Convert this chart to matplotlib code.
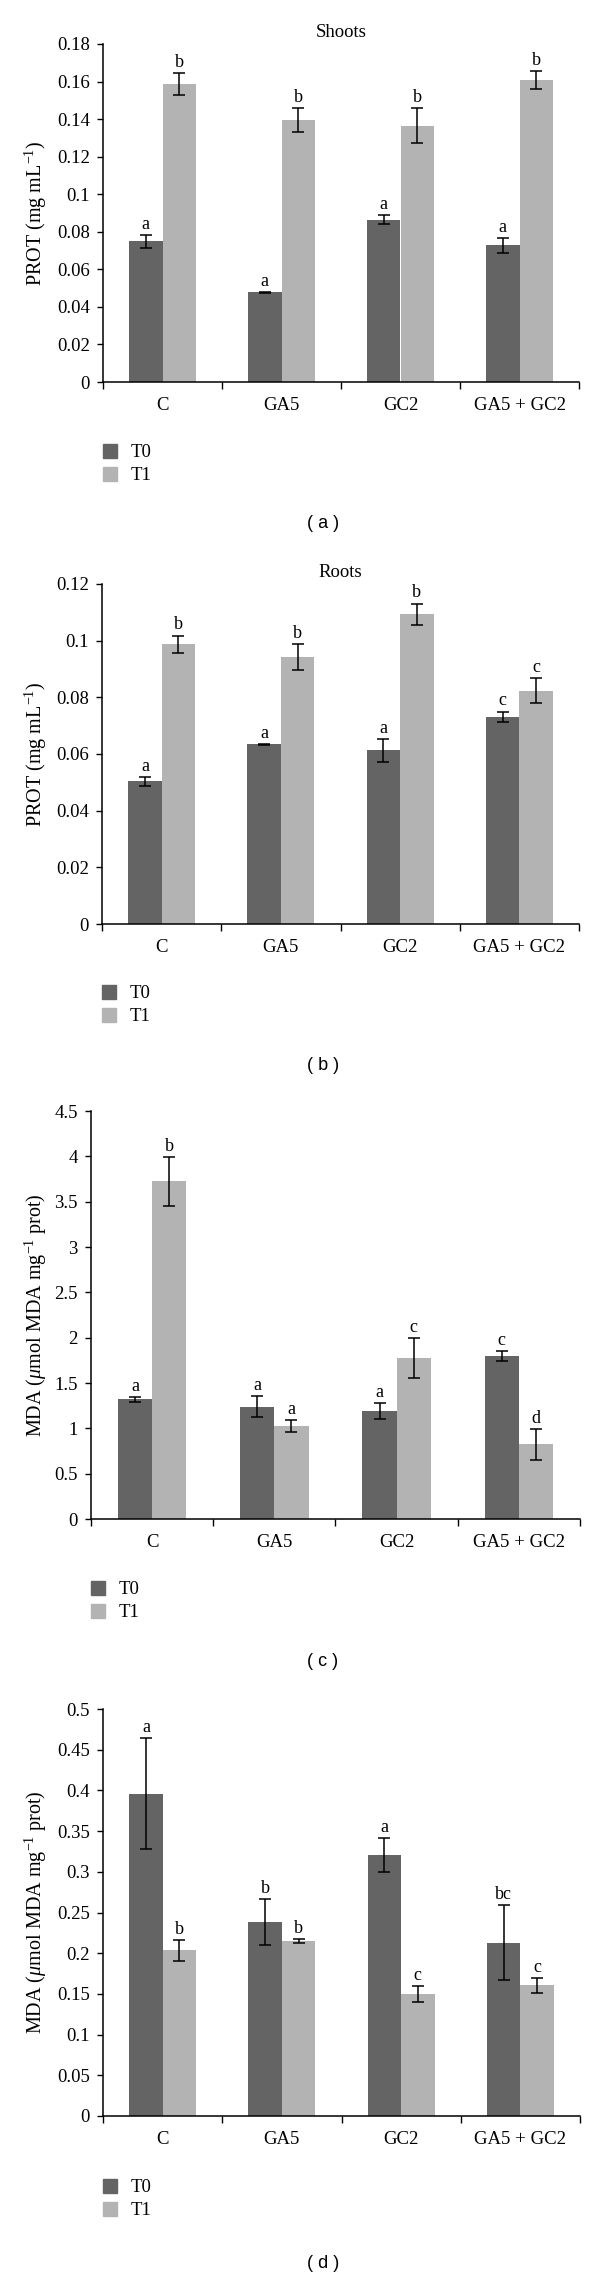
import numpy as np
import matplotlib
matplotlib.use("Agg")
import matplotlib.pyplot as plt
from matplotlib.patches import Patch

plt.rcParams['font.family'] = ['Liberation Serif', 'DejaVu Serif']
plt.rcParams['mathtext.fontset'] = 'custom'
plt.rcParams['mathtext.rm'] = 'Liberation Serif'
plt.rcParams['mathtext.it'] = 'Liberation Serif:italic'

categories = ['C', 'GA5', 'GC2', 'GA5 + GC2']
series = ['T0', 'T1']
colors = ['#646464', '#b3b3b3']

# --- (a) protein, shoots ---
shoots_t0 = [0.0750, 0.0477, 0.0865, 0.0727]
shoots_t0_err = [0.0034, 0.0003, 0.0026, 0.0038]
shoots_t1 = [0.1586, 0.1393, 0.1365, 0.1607]
shoots_t1_err = [0.0060, 0.0064, 0.0093, 0.0049]
shoots_t0_lett = ['a', 'a', 'a', 'a']
shoots_t1_lett = ['b', 'b', 'b', 'b']

# --- (b) protein, roots ---
roots_t0 = [0.0504, 0.0634, 0.0613, 0.0731]
roots_t0_err = [0.0016, 0.0002, 0.0040, 0.0019]
roots_t1 = [0.0988, 0.0942, 0.1094, 0.0824]
roots_t1_err = [0.0030, 0.0047, 0.0037, 0.0045]
roots_t0_lett = ['a', 'a', 'a', 'c']
roots_t1_lett = ['b', 'b', 'b', 'c']

# --- (c) MDA, shoots ---
mda_s_t0 = [1.322, 1.240, 1.190, 1.796]
mda_s_t0_err = [0.027, 0.120, 0.089, 0.054]
mda_s_t1 = [3.724, 1.030, 1.771, 0.824]
mda_s_t1_err = [0.270, 0.066, 0.220, 0.170]
mda_s_t0_lett = ['a', 'a', 'a', 'c']
mda_s_t1_lett = ['b', 'a', 'c', 'd']

# --- (d) MDA, roots ---
mda_r_t0 = [0.3958, 0.2383, 0.3204, 0.2126]
mda_r_t0_err = [0.068, 0.028, 0.021, 0.046]
mda_r_t1 = [0.2035, 0.2153, 0.1498, 0.1606]
mda_r_t1_err = [0.013, 0.0025, 0.0095, 0.009]
mda_r_t0_lett = ['a', 'b', 'a', 'bc']
mda_r_t1_lett = ['b', 'b', 'c', 'c']

prot_label = r'PROT (mg mL$^{-1}$)'
mda_label = r'MDA ($\mu$mol MDA mg$^{-1}$ prot)'

W, H = 600, 2276
fig = plt.figure(figsize=(W / 100, H / 100), dpi=100)


def px_rect(x0, y0, x1, y1):
    return [x0 / W, 1 - y1 / H, (x1 - x0) / W, (y1 - y0) / H]


panels = [
    dict(rect=(103, 44, 579, 382), ylim=0.18, step=0.02, title='Shoots', ylabel=prot_label,
         t0=shoots_t0, e0=shoots_t0_err, t1=shoots_t1, e1=shoots_t1_err,
         l0=shoots_t0_lett, l1=shoots_t1_lett, leg_y=444, tag='( a )', tag_y=523),
    dict(rect=(102, 584, 579, 924), ylim=0.12, step=0.02, title='Roots', ylabel=prot_label,
         t0=roots_t0, e0=roots_t0_err, t1=roots_t1, e1=roots_t1_err,
         l0=roots_t0_lett, l1=roots_t1_lett, leg_y=985, tag='( b )', tag_y=1065),
    dict(rect=(91, 1111, 580, 1519), ylim=4.5, step=0.5, title=None, ylabel=mda_label,
         t0=mda_s_t0, e0=mda_s_t0_err, t1=mda_s_t1, e1=mda_s_t1_err,
         l0=mda_s_t0_lett, l1=mda_s_t1_lett, leg_y=1581, tag='( c )', tag_y=1662),
    dict(rect=(103, 1709, 580, 2116), ylim=0.5, step=0.05, title=None, ylabel=mda_label,
         t0=mda_r_t0, e0=mda_r_t0_err, t1=mda_r_t1, e1=mda_r_t1_err,
         l0=mda_r_t0_lett, l1=mda_r_t1_lett, leg_y=2179, tag='( d )', tag_y=2264),
]

x = np.arange(len(categories))
bw = 0.28

for p in panels:
    ax = fig.add_axes(px_rect(*p['rect']))
    for off, vals, errs, letts, col in [(-bw / 2, p['t0'], p['e0'], p['l0'], colors[0]),
                                         (bw / 2, p['t1'], p['e1'], p['l1'], colors[1])]:
        ax.bar(x + off, vals, width=bw, color=col, zorder=2)
        ax.errorbar(x + off, vals, yerr=errs, fmt='none', ecolor='black',
                    elinewidth=1.1, capsize=4, capthick=1.1, zorder=3)
        for xi, v, e, l in zip(x + off, vals, errs, letts):
            ax.annotate(l, (xi, v + e), xytext=(0, 1.5), textcoords='offset points',
                        ha='center', va='bottom', fontsize=13)

    ax.set_xlim(-0.5, len(categories) - 0.5)
    ax.set_ylim(0, p['ylim'])
    yt = np.round(np.arange(0, p['ylim'] + p['step'] / 2, p['step']), 4)
    ax.set_yticks(yt)
    ax.set_yticklabels([f'{v:g}' for v in yt])
    ax.set_xticks(np.arange(-0.5, len(categories), 1.0))
    ax.set_xticklabels([])
    ax.set_xticks(x, minor=True)
    ax.set_xticklabels(categories, minor=True)
    ax.tick_params(axis='y', direction='out', length=4.5, width=1, labelsize=13.5, pad=5)
    ax.tick_params(axis='x', which='major', direction='out', length=5, width=1)
    ax.tick_params(axis='x', which='minor', length=0, labelsize=13.5, pad=11)
    for s in ['top', 'right']:
        ax.spines[s].set_visible(False)
    for s in ['left', 'bottom']:
        ax.spines[s].set_linewidth(1.1)

    ax.set_ylabel(p['ylabel'], fontsize=14.5, va='center')
    ax.yaxis.set_label_coords((36 - p['rect'][0]) / (p['rect'][2] - p['rect'][0]), 0.5)
    if p['title']:
        ax.set_title(p['title'], fontsize=13.5, pad=5)

    handles = [Patch(color=colors[0], label=series[0]), Patch(color=colors[1], label=series[1])]
    fig.legend(handles=handles, loc='upper left',
               bbox_to_anchor=(p['rect'][0] / W, 1 - p['leg_y'] / H),
               frameon=False, fontsize=13.5, handlelength=0.75, handleheight=0.75,
               handletextpad=0.7, labelspacing=0.3, borderpad=0, borderaxespad=0)

    fig.text(323 / W, 1 - p['tag_y'] / H, p['tag'], ha='center', va='center',
             fontsize=13, family='Liberation Sans')

fig.savefig('out.png', dpi=100)
